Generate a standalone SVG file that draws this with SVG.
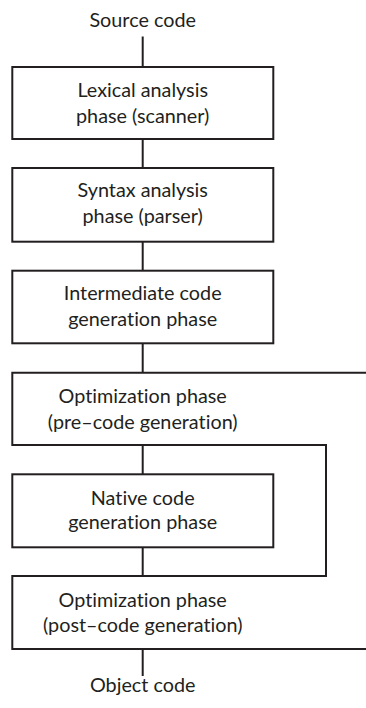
<svg xmlns="http://www.w3.org/2000/svg" width="366" height="708" viewBox="0 0 366 708">
<style>
text{font-family:Lato,"Open Sans","Liberation Sans",sans-serif;font-size:19.8px;fill:#231f20;text-anchor:middle;font-variant-ligatures:none}
.b{fill:none;stroke:#231f20;stroke-width:2}
.c{fill:none;stroke:#231f20;stroke-width:2}
</style>
<rect width="366" height="708" fill="#fff"/>
<g id="connectors">
<line class="c" x1="142.7" y1="36.5" x2="142.7" y2="67"/>
<line class="c" x1="142.7" y1="139" x2="142.7" y2="168"/>
<line class="c" x1="142.7" y1="241.7" x2="142.7" y2="270.7"/>
<line class="c" x1="142.7" y1="343.3" x2="142.7" y2="372.7"/>
<line class="c" x1="142.7" y1="445" x2="142.7" y2="474.3"/>
<line class="c" x1="142.7" y1="547.3" x2="142.7" y2="576"/>
<polyline class="c" points="273,445 326,445 326,576 273,576"/>
<line class="c" x1="142.7" y1="649" x2="142.7" y2="676"/>
</g>
<g id="source"><text x="142.7" y="26.5">Source code</text></g>
<g id="lexical">
<rect class="b" x="12.3" y="67" width="261" height="72"/>
<text x="142.7" y="97.3">Lexical analysis</text>
<text x="142.7" y="123.3">phase (scanner)</text>
</g>
<g id="syntax">
<rect class="b" x="12.3" y="168" width="261" height="73.7"/>
<text x="142.7" y="196.5">Syntax analysis</text>
<text x="142.7" y="222.8">phase (parser)</text>
</g>
<g id="intermediate">
<rect class="b" x="12.3" y="270.7" width="261" height="72.6"/>
<text x="142.7" y="300.3">Intermediate code</text>
<text x="142.7" y="326.3">generation phase</text>
</g>
<g id="opt-pre">
<polyline class="b" points="366,372.7 12.3,372.7 12.3,445 326,445"/>
<text x="142.7" y="403">Optimization phase</text>
<text x="142.7" y="428.6">(pre–code generation)</text>
</g>
<g id="native">
<rect class="b" x="12.3" y="474.3" width="261" height="73"/>
<text x="142.7" y="504.6">Native code</text>
<text x="142.7" y="528.6">generation phase</text>
</g>
<g id="opt-post">
<polyline class="b" points="326,576 12.3,576 12.3,649 366,649"/>
<text x="142.7" y="607">Optimization phase</text>
<text x="142.7" y="632">(post–code generation)</text>
</g>
<g id="object"><text x="142.7" y="692">Object code</text></g>
</svg>
